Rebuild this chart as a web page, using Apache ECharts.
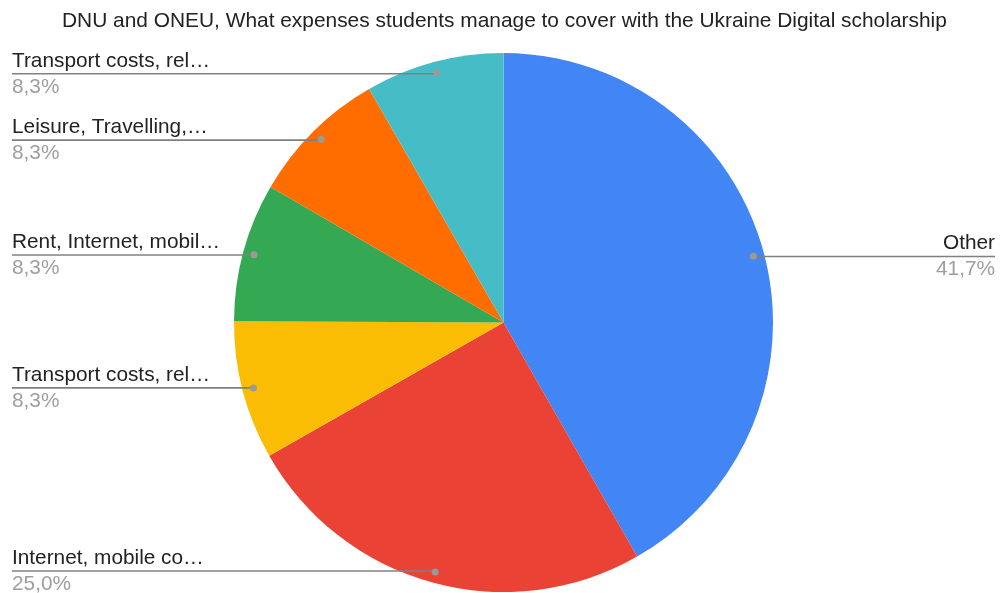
<!DOCTYPE html>
<html>
<head>
<meta charset="utf-8">
<title>Ukraine Digital scholarship expenses</title>
<script src="https://cdn.jsdelivr.net/npm/echarts@6/dist/echarts.min.js"></script>
<style>
  html, body { margin: 0; padding: 0; background: #ffffff; }
  #chart { width: 1000px; height: 593px; }
</style>
</head>
<body>
<div id="chart"></div>
<script>
// Slice labels (as shown, truncated) and their shares in percent, clockwise from the top
const categories = [
  'Other',
  'Internet, mobile co…',
  'Transport costs, rel…',
  'Rent, Internet, mobil…',
  'Leisure, Travelling,…',
  'Transport costs, rel…'
];
const shares = [41.7, 25.0, 8.3, 8.3, 8.3, 8.3];
const sliceColors = ['#4285f4', '#ea4335', '#fbbc04', '#34a853', '#ff6d01', '#46bdc6'];

const titleText = 'DNU and ONEU, What expenses students manage to cover with the Ukraine Digital scholarship';

const FONT = 'Arial, "Liberation Sans", Helvetica, sans-serif';
const CENTER = ['50.35%', '54.4%'];
const RADIUS = 269.5;
const DOT_RADIUS = 257.5;
const LEFT_EDGE = 12;
const RIGHT_EDGE = 995;

// two slices share a truncated label, so colour each slice explicitly
const pieData = categories.map((name, i) => ({
  name: name,
  value: shares[i],
  itemStyle: { color: sliceColors[i] }
}));
const fmtPct = v => v.toFixed(1).replace('.', ',') + '%';

const chart = echarts.init(document.getElementById('chart'), null, { renderer: 'canvas' });

function centerX() {
  return chart.getWidth() * parseFloat(CENTER[0]) / 100;
}

const option = {
  animation: false,
  backgroundColor: '#ffffff',
  title: {
    text: titleText,
    left: 57,
    top: 6,
    textStyle: { fontFamily: FONT, fontSize: 20.9, fontWeight: 'normal', color: '#222222' }
  },
  series: [
    {
      // the coloured slices
      type: 'pie',
      z: 1,
      center: CENTER,
      radius: [0, RADIUS],
      startAngle: 90,
      clockwise: true,
      silent: true,
      label: { show: false },
      labelLine: { show: false },
      emphasis: { disabled: true },
      itemStyle: { borderWidth: 0 },
      data: pieData
    },
    {
      // invisible pie whose rim passes through the callout dots; carries the callout labels
      type: 'pie',
      z: 2,
      center: CENTER,
      radius: [0, DOT_RADIUS],
      startAngle: 90,
      clockwise: true,
      silent: true,
      emphasis: { disabled: true },
      itemStyle: { color: 'rgba(0,0,0,0)' },
      avoidLabelOverlap: false,
      label: {
        show: true,
        position: 'outside',
        formatter: p => '{n|' + p.name + '}\n{p|' + fmtPct(p.value) + '}',
        rich: {
          n: { fontFamily: FONT, fontSize: 20.8, color: '#222222', lineHeight: 26 },
          p: { fontFamily: FONT, fontSize: 20.8, color: '#9e9e9e', lineHeight: 26 }
        }
      },
      labelLine: {
        show: true,
        length: 10,
        length2: 10,
        lineStyle: { color: '#808080', width: 1.6 }
      },
      labelLayout: function (params) {
        const pts = params.labelLinePoints;
        if (!pts) return {};
        const x0 = pts[0][0];
        const y0 = pts[0][1];
        const right = x0 > centerX();
        const xe = right ? RIGHT_EDGE : LEFT_EDGE;
        return {
          x: xe,
          y: y0,
          align: right ? 'right' : 'left',
          verticalAlign: 'middle',
          labelLinePoints: [[x0, y0], [xe, y0], [xe, y0]]
        };
      },
      data: pieData.map(d => ({ name: d.name, value: d.value }))
    },
    {
      // small grey dots where the callout lines start
      type: 'pie',
      z: 3,
      center: CENTER,
      radius: [DOT_RADIUS - 4, DOT_RADIUS],
      startAngle: 90,
      clockwise: true,
      silent: true,
      emphasis: { disabled: true },
      itemStyle: { color: 'rgba(0,0,0,0)' },
      label: {
        show: true,
        position: 'inside',
        formatter: '{d|}',
        rich: {
          d: { width: 7, height: 7, borderRadius: 3.5, backgroundColor: '#9a9a9a' }
        }
      },
      labelLine: { show: false },
      data: pieData.map(d => ({ name: d.name, value: d.value }))
    }
  ]
};

chart.setOption(option);
</script>
</body>
</html>
